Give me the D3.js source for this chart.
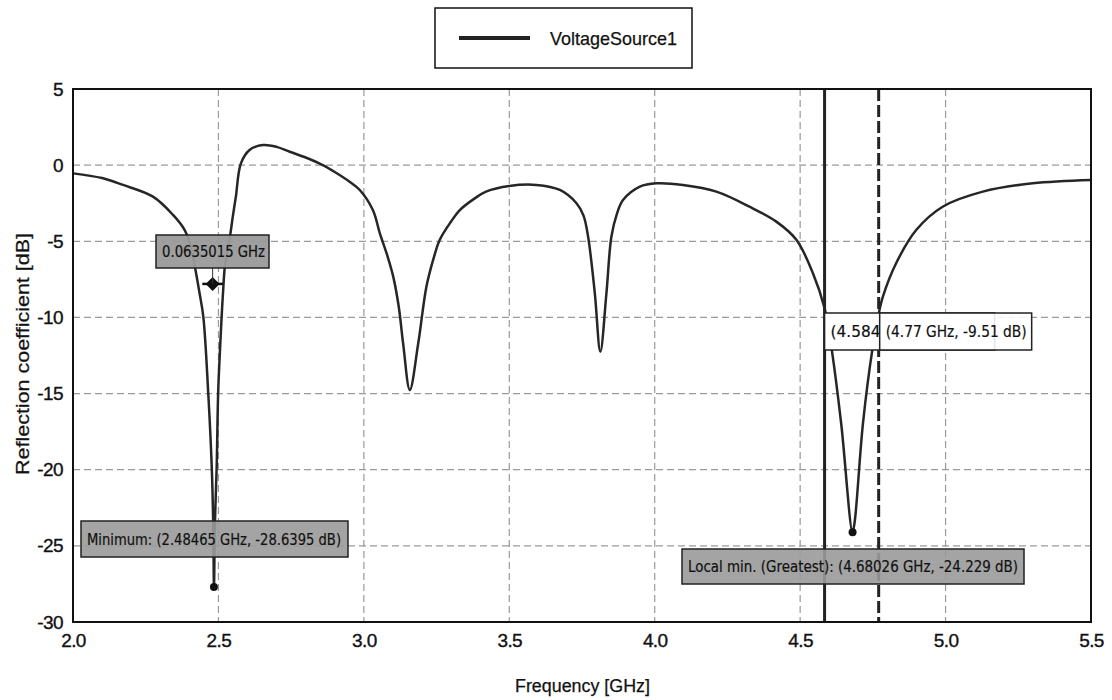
<!DOCTYPE html>
<html>
  <head>
    <meta charset="utf-8">
    <title>Reflection coefficient</title>
    <script src="https://d3js.org/d3.v7.min.js"></script>
    <style>
      body { margin: 0; background: #fff; }
      svg { display: block; }
      .tick-label { font-family: "Liberation Sans", Arial, sans-serif; font-size: 19px; fill: #111; stroke: #111; stroke-width: 0.35px; letter-spacing: -0.6px; }
      .axis-title { font-family: "Liberation Sans", Arial, sans-serif; font-size: 18px; fill: #111; stroke: #111; stroke-width: 0.25px; }
      .note { font-family: "DejaVu Sans", sans-serif; font-size: 15px; fill: #111; stroke: #111; stroke-width: 0.2px; }
    </style>
  </head>
  <body>
    <div id="chart"></div>
    <script>
      // curve (GHz, dB)
      var freq = [2.0, 2.1, 2.172, 2.275, 2.344, 2.384, 2.40, 2.419, 2.435, 2.448, 2.465, 2.477, 2.482, 2.4847,
        2.488, 2.494, 2.499, 2.505, 2.511, 2.516, 2.522, 2.53, 2.538, 2.55, 2.56, 2.577, 2.607, 2.653, 2.70,
        2.745, 2.80, 2.859, 2.90, 2.951, 2.986, 3.031, 3.055, 3.08, 3.101, 3.12, 3.135, 3.158, 3.187, 3.215,
        3.24, 3.261, 3.30, 3.33, 3.38, 3.42, 3.50, 3.593, 3.674, 3.731, 3.755, 3.771, 3.794, 3.813, 3.834,
        3.851, 3.87, 3.891, 3.949, 4.006, 4.097, 4.212, 4.326, 4.418, 4.487, 4.544, 4.584, 4.607, 4.641,
        4.68, 4.687, 4.716, 4.75, 4.773, 4.785, 4.83, 4.899, 4.99, 5.128, 5.30, 5.5];
      var s11 = [-0.54, -0.85, -1.30, -2.07, -3.27, -4.26, -5.0, -6.67, -8.4, -9.95, -14.98, -19.8, -23.5, -27.7,
        -23.5, -19.8, -14.98, -12.3, -9.95, -8.3, -6.67, -5.7, -4.9, -3.3, -2.07, 0.1, 1.0, 1.32, 1.2,
        0.88, 0.5, 0.0, -0.45, -1.09, -1.63, -2.95, -4.48, -5.9, -7.32, -9.3, -11.7, -14.76, -11.7, -7.98,
        -6.1, -4.9, -3.7, -2.95, -2.2, -1.74, -1.37, -1.3, -1.63, -2.5, -3.3, -4.7, -8.4, -12.25, -8.4,
        -4.7, -3.2, -2.29, -1.41, -1.19, -1.30, -1.74, -2.73, -3.71, -4.9, -7.1, -9.4, -11.9, -16.95,
        -24.1, -23.5, -16.95, -11.9, -9.5, -8.6, -6.44, -4.26, -2.73, -1.74, -1.19, -0.97];

      var xTicks = [2.0, 2.5, 3.0, 3.5, 4.0, 4.5, 5.0, 5.5];
      var yTicks = [5, 0, -5, -10, -15, -20, -25, -30];
      var seriesName = "VoltageSource1";

      // markers: minimum points, bandwidth marker, vertical cursors
      var minPoints = [[2.48465, -27.7], [4.68026, -24.1]];
      var minLabels = ["Minimum: (2.48465 GHz, -28.6395 dB)", "Local min. (Greatest): (4.68026 GHz, -24.229 dB)"];
      var bandEdges = [2.4445, 2.5157];
      var bandLevel = -7.8;
      var bandLabel = "0.0635015 GHz";
      var cursorFreqs = [4.584, 4.77];
      var cursorLabels = ["(4.584", "(4.77 GHz, -9.51 dB)"];

      var width = 1112, height = 700;
      var margin = { top: 89, right: 21, bottom: 78, left: 73 };

      var svg = d3.select("#chart").append("svg")
        .attr("width", width)
        .attr("height", height);

      var x = d3.scaleLinear().domain([2.0, 5.5]).range([margin.left, width - margin.right]);
      var y = d3.scaleLinear().domain([-30, 5]).range([height - margin.bottom, margin.top]);

      // grid
      svg.append("g")
        .selectAll("line")
        .data(xTicks.slice(1, -1))
        .join("line")
          .attr("x1", function(d) { return x(d); })
          .attr("x2", function(d) { return x(d); })
          .attr("y1", y(5))
          .attr("y2", y(-30))
          .attr("stroke", "#9a9a9a")
          .attr("stroke-width", 1.2)
          .attr("stroke-dasharray", "7,4");
      svg.append("g")
        .selectAll("line")
        .data(yTicks.slice(1, -1))
        .join("line")
          .attr("x1", x(2.0))
          .attr("x2", x(5.5))
          .attr("y1", function(d) { return y(d); })
          .attr("y2", function(d) { return y(d); })
          .attr("stroke", "#9a9a9a")
          .attr("stroke-width", 1.2)
          .attr("stroke-dasharray", "7,4");

      // axes labels via d3 axes (no tick lines)
      var xAxis = svg.append("g")
        .attr("transform", "translate(0," + y(-30) + ")")
        .call(d3.axisBottom(x).tickValues(xTicks).tickFormat(d3.format(".1f")).tickSize(0).tickPadding(8));
      var yAxis = svg.append("g")
        .attr("transform", "translate(" + x(2.0) + ",0)")
        .call(d3.axisLeft(y).tickValues(yTicks).tickFormat(function(d) { return String(d); }).tickSize(0).tickPadding(10));
      [xAxis, yAxis].forEach(function(a) {
        a.select(".domain").remove();
        a.selectAll("text").attr("class", "tick-label").attr("font-family", null).attr("font-size", null).attr("fill", null);
      });
      xAxis.selectAll("text").attr("dy", "0.9em");

      // cursor lines
      svg.append("line")
        .attr("x1", x(cursorFreqs[0])).attr("x2", x(cursorFreqs[0]))
        .attr("y1", y(5)).attr("y2", y(-30))
        .attr("stroke", "#222").attr("stroke-width", 3);
      svg.append("line")
        .attr("x1", x(cursorFreqs[1])).attr("x2", x(cursorFreqs[1]))
        .attr("y1", y(5)).attr("y2", y(-30))
        .attr("stroke", "#222").attr("stroke-width", 3)
        .attr("stroke-dasharray", "12,4");

      // curve
      var line = d3.line()
        .x(function(d) { return x(d[0]); })
        .y(function(d) { return y(d[1]); })
        .curve(d3.curveCatmullRom.alpha(0.5));
      svg.append("path")
        .datum(d3.zip(freq, s11))
        .attr("d", line)
        .attr("fill", "none")
        .attr("stroke", "#262626")
        .attr("stroke-width", 2.5)
        .attr("stroke-linejoin", "round");

      // minimum dots
      svg.selectAll(".min-dot")
        .data(minPoints)
        .join("circle")
          .attr("class", "min-dot")
          .attr("cx", function(d) { return x(d[0]); })
          .attr("cy", function(d) { return y(d[1]); })
          .attr("r", 4)
          .attr("fill", "#111");

      // bandwidth marker
      var bw = svg.append("g");
      bw.append("line")
        .attr("x1", x(bandEdges[0])).attr("x2", x(bandEdges[1]))
        .attr("y1", y(bandLevel)).attr("y2", y(bandLevel))
        .attr("stroke", "#111").attr("stroke-width", 2.5);
      var cx = x((bandEdges[0] + bandEdges[1]) / 2), cy = y(bandLevel);
      bw.append("path")
        .attr("d", "M" + (cx - 7) + "," + cy + "L" + cx + "," + (cy - 7) + "L" + (cx + 7) + "," + cy + "L" + cx + "," + (cy + 7) + "Z")
        .attr("fill", "#111");
      bw.append("line")
        .attr("x1", cx).attr("x2", cx)
        .attr("y1", 268).attr("y2", cy)
        .attr("stroke", "#333").attr("stroke-width", 1);

      // label boxes
      function labelBox(x0, y0, w, h, fill, txt, opacity, len) {
        var g = svg.append("g");
        g.append("rect")
          .attr("x", x0).attr("y", y0).attr("width", w).attr("height", h)
          .attr("fill", fill).attr("fill-opacity", opacity)
          .attr("stroke", "#222").attr("stroke-width", 1.5);
        var t = g.append("text")
          .attr("class", "note")
          .attr("x", x0 + 6).attr("y", y0 + h / 2 + 5.5)
          .text(txt);
        if (len) t.attr("textLength", len).attr("lengthAdjust", "spacingAndGlyphs");
        return g;
      }
      labelBox(156, 235, 113, 33, "#9a9a9a", bandLabel, 0.95, 103);
      labelBox(81, 521, 267, 36, "#9a9a9a", minLabels[0], 0.9, 254);
      labelBox(682, 549, 342, 35, "#9a9a9a", minLabels[1], 0.9, 330);
      labelBox(x(cursorFreqs[0]), 313, 170, 37, "#fff", cursorLabels[0], 1, 50);
      labelBox(x(cursorFreqs[1]) + 1, 313, 152, 37, "#fff", cursorLabels[1], 0.88, 141);

      // plot frame
      svg.append("rect")
        .attr("x", x(2.0)).attr("y", y(5))
        .attr("width", x(5.5) - x(2.0)).attr("height", y(-30) - y(5))
        .attr("fill", "none").attr("stroke", "#111").attr("stroke-width", 2);

      // axis titles
      svg.append("text")
        .attr("class", "axis-title")
        .attr("x", 515)
        .attr("y", 692)
        .attr("textLength", 135)
        .attr("lengthAdjust", "spacingAndGlyphs")
        .text("Frequency [GHz]");
      svg.append("text")
        .attr("class", "axis-title")
        .attr("transform", "translate(29,475) rotate(-90)")
        .attr("textLength", 242)
        .attr("lengthAdjust", "spacingAndGlyphs")
        .style("font-size", "19px")
        .text("Reflection coefficient [dB]");

      // legend
      var legend = svg.append("g");
      legend.append("rect")
        .attr("x", 435).attr("y", 8).attr("width", 257).attr("height", 60)
        .attr("fill", "#fff").attr("stroke", "#111").attr("stroke-width", 1.5);
      legend.append("line")
        .attr("x1", 459).attr("x2", 530).attr("y1", 38).attr("y2", 38)
        .attr("stroke", "#222").attr("stroke-width", 4);
      legend.append("text")
        .attr("class", "axis-title")
        .attr("x", 550).attr("y", 45)
        .attr("textLength", 127)
        .attr("lengthAdjust", "spacingAndGlyphs")
        .style("font-size", "19px")
        .text(seriesName);
    </script>
  </body>
</html>
